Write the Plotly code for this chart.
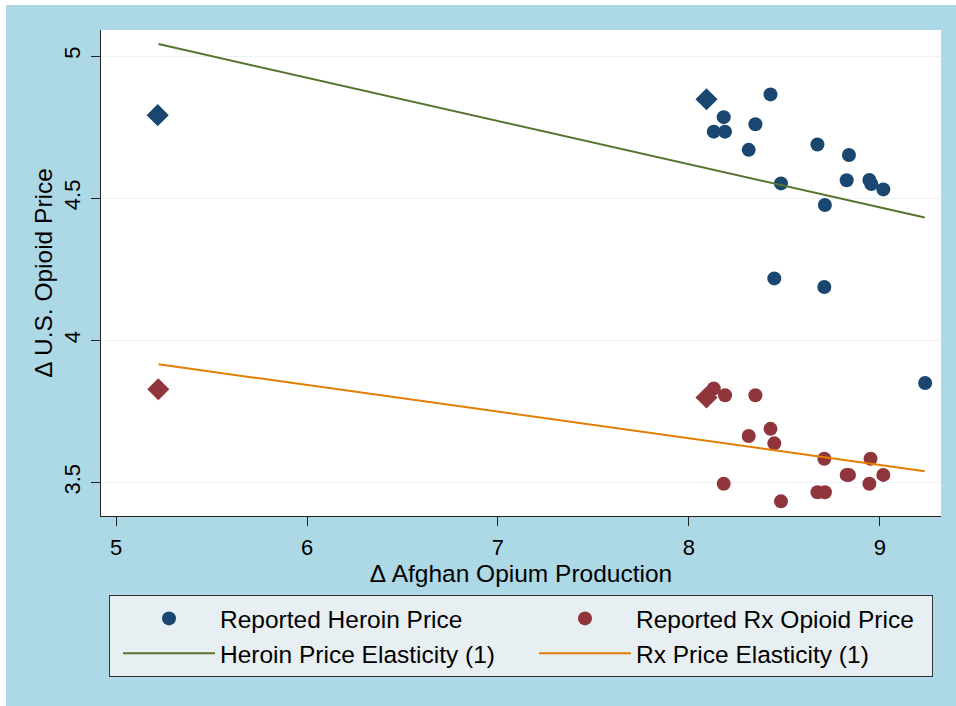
import plotly.graph_objects as go

# ---- data ----
heroin_x = [8.130, 8.182, 8.189, 8.313, 8.348, 8.427, 8.447, 8.482, 8.673,
            8.709, 8.712, 8.826, 8.838, 8.945, 8.955, 9.018, 9.237]
heroin_y = [4.734, 4.785, 4.734, 4.670, 4.760, 4.865, 4.218, 4.552, 4.689,
            4.188, 4.476, 4.563, 4.652, 4.564, 4.550, 4.531, 3.850]

rx_x = [8.130, 8.182, 8.189, 8.313, 8.348, 8.427, 8.447, 8.482, 8.673,
        8.709, 8.712, 8.826, 8.838, 8.945, 8.951, 9.018]
rx_y = [3.831, 3.496, 3.807, 3.664, 3.807, 3.689, 3.638, 3.434, 3.466,
        3.584, 3.466, 3.527, 3.527, 3.496, 3.584, 3.527]

heroin_diamond_x = [5.218, 8.092]
heroin_diamond_y = [4.792, 4.848]
rx_diamond_x = [5.221, 8.092]
rx_diamond_y = [3.828, 3.799]

fit_x = [5.222, 9.235]
heroin_fit_y = [5.042, 4.432]
rx_fit_y = [3.916, 3.540]

x_ticks = [5, 6, 7, 8, 9]
y_ticks = [3.5, 4, 4.5, 5]
y_tick_text = ["3.5", "4", "4.5", "5"]

NAVY = "#1a476f"
MAROON = "#90353b"
GREEN = "#55752f"
ORANGE = "#e37e00"
BG = "#add8e6"
FONT = "Liberation Sans, Arial, sans-serif"

W, H = 956, 706
L, R, T, B = 101, 15, 30, 190

COL1_W = 301
COL2_W = 291

fig = go.Figure()
fig.add_trace(go.Scatter(x=heroin_x, y=heroin_y, mode="markers",
                         name="Reported Heroin Price", legendwidth=COL1_W,
                         marker=dict(color=NAVY, size=14, symbol="circle")))
fig.add_trace(go.Scatter(x=rx_x, y=rx_y, mode="markers",
                         name="Reported Rx Opioid Price", legendwidth=COL2_W,
                         marker=dict(color=MAROON, size=14, symbol="circle")))
fig.add_trace(go.Scatter(x=heroin_diamond_x, y=heroin_diamond_y, mode="markers",
                         showlegend=False,
                         marker=dict(color=NAVY, size=17, symbol="diamond")))
fig.add_trace(go.Scatter(x=rx_diamond_x, y=rx_diamond_y, mode="markers",
                         showlegend=False,
                         marker=dict(color=MAROON, size=17, symbol="diamond")))
fig.add_trace(go.Scatter(x=fit_x, y=heroin_fit_y, mode="lines",
                         name="Heroin Price Elasticity (1)", legendwidth=COL1_W,
                         line=dict(color=GREEN, width=2)))
fig.add_trace(go.Scatter(x=fit_x, y=rx_fit_y, mode="lines",
                         name="Rx Price Elasticity (1)", legendwidth=COL2_W,
                         line=dict(color=ORANGE, width=2)))

pw = W - L - R
ph = H - T - B

def px_x(p):
    return (p - L) / pw

def px_y(p):
    return (H - B - p) / ph

fig.update_layout(
    width=W, height=H,
    margin=dict(l=L, r=R, t=T, b=B, autoexpand=False),
    paper_bgcolor=BG,
    plot_bgcolor="white",
    font=dict(family=FONT, color="#000000"),
    showlegend=True,
    legend=dict(
        orientation="h",
        xref="paper", yref="container",
        x=px_x(109), y=(H - 595) / H, xanchor="left", yanchor="top",
        bgcolor="#e8eff2", bordercolor="#333333", borderwidth=1,
        font=dict(size=24.5, family=FONT, color="#000000"),
        itemwidth=92,
        indentation=8,
        traceorder="normal",
        tracegroupgap=0,
    ),
    xaxis=dict(
        range=[4.921, 9.32],
        tickvals=x_ticks, automargin=False,
        ticks="outside", ticklen=9, tickwidth=1, tickcolor="#222222",
        ticklabelstandoff=3,
        showline=True, linecolor="#222222", linewidth=1,
        showgrid=False, zeroline=False,
        tickfont=dict(size=22, family=FONT),
        title=dict(text="Δ Afghan Opium Production", font=dict(size=24.5, family=FONT), standoff=0),
    ),
    yaxis=dict(
        range=[3.3825, 5.0915], automargin=False,
        tickvals=y_ticks, ticktext=y_tick_text, tickangle=-90,
        ticks="outside", ticklen=9, tickwidth=1, tickcolor="#222222",
        ticklabelstandoff=2,
        showline=True, linecolor="#222222", linewidth=1,
        showgrid=True, gridcolor="#eaf2f3", gridwidth=1, zeroline=False,
        tickfont=dict(size=22, family=FONT),
        title=dict(text="Δ U.S. Opioid Price", font=dict(size=24.5, family=FONT), standoff=0),
    ),
    shapes=[
        dict(type="rect", xref="paper", yref="paper",
             x0=px_x(0), x1=px_x(W), y0=px_y(5), y1=px_y(0),
             fillcolor="white", line=dict(width=0), layer="above"),
        dict(type="rect", xref="paper", yref="paper",
             x0=px_x(0), x1=px_x(6), y0=px_y(H), y1=px_y(0),
             fillcolor="white", line=dict(width=0), layer="above"),
    ],
)

fig.write_html("out.html")
